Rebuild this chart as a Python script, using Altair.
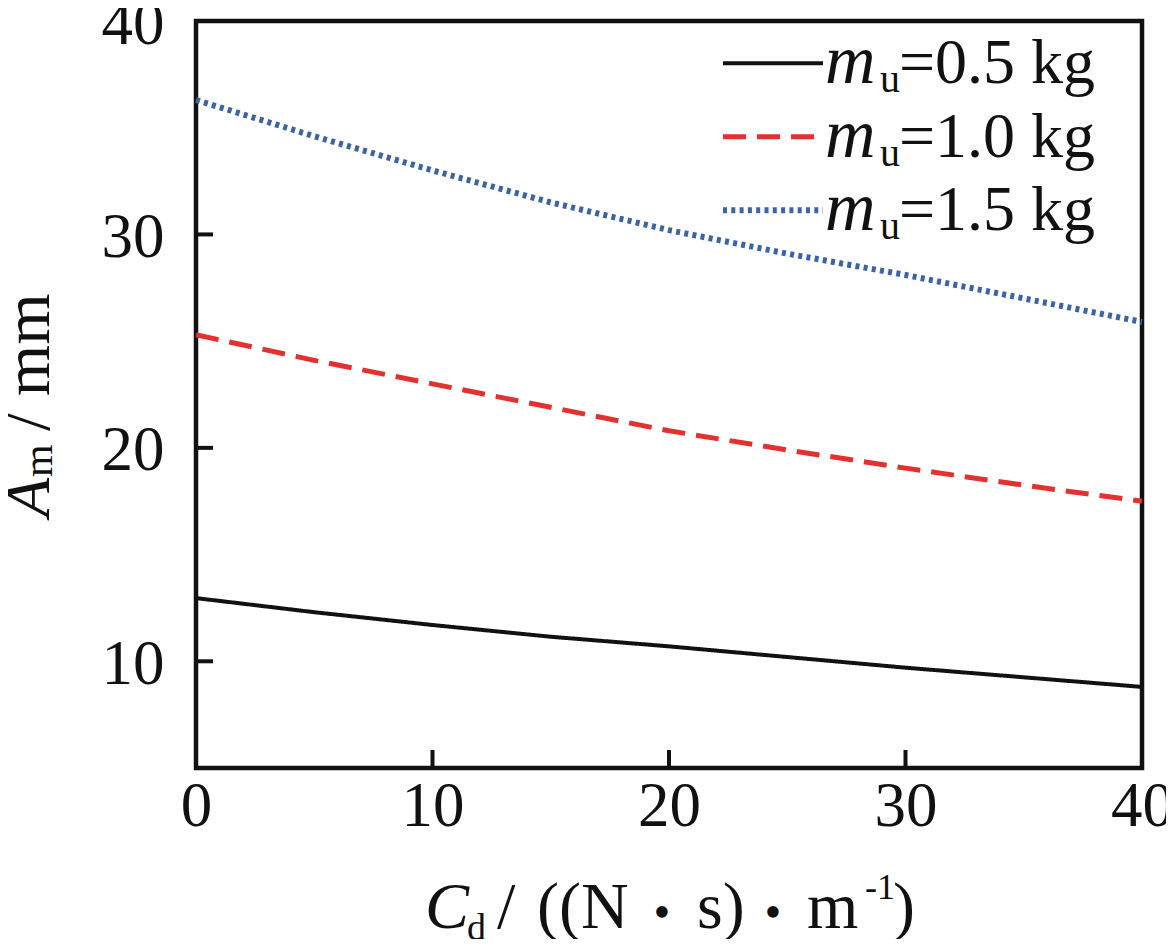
import altair as alt
import pandas as pd

# ---- data ----
cd_values = [0, 5, 10, 15, 20, 25, 30, 35, 40]
series_names = ["0.5 kg", "1.0 kg", "1.5 kg"]
am_05 = [12.96, 12.3, 11.7, 11.15, 10.7, 10.2, 9.7, 9.25, 8.8]
am_10 = [25.3, 24.1, 23.0, 21.9, 20.8, 19.9, 19.05, 18.25, 17.5]
am_15 = [36.3, 34.6, 33.0, 31.5, 30.2, 29.1, 28.1, 27.0, 25.9]
legend_labels = ["=0.5 kg", "=1.0 kg", "=1.5 kg"]
x_ticks = [0, 10, 20, 30, 40]
y_ticks = [10, 20, 30, 40]
inner_ticks = [10, 20, 30]

rows = []
for name, vals in zip(series_names, [am_05, am_10, am_15]):
    for c, v in zip(cd_values, vals):
        rows.append({"cd": c, "am": v, "series": name})
df = pd.DataFrame(rows)
leg_df = pd.DataFrame({"series": series_names, "label": legend_labels})
tick_df = pd.DataFrame({"v": inner_ticks})

FONT = "Times New Roman, Liberation Serif, Times, serif"
W, H = 946, 747
xscale = alt.Scale(domain=[0, 40], nice=False, zero=False)
yscale = alt.Scale(domain=[5, 40], nice=False, zero=False)
col_scale = alt.Scale(domain=series_names, range=["#111111", "#e4312f", "#3a64a6"])
dash_scale = alt.Scale(domain=series_names, range=[[1, 0], [23, 11], [4, 4.3]])
width_scale = alt.Scale(domain=series_names, range=[4, 6, 5])

x_axis = alt.Axis(values=x_ticks, ticks=False, domain=False, grid=False,
                  labelFont=FONT, labelFontSize=63, labelColor="#111",
                  labelPadding=7, labelFlush=False, labelOverlap=False,
                  format="d", title=None)
y_axis = alt.Axis(values=y_ticks, ticks=False, domain=False, grid=False,
                  labelFont=FONT, labelFontSize=63, labelColor="#111",
                  labelPadding=32, labelOffset=3, labelOverlap=False,
                  format="d", title=None)

enc_style = dict(
    color=alt.Color("series:N", scale=col_scale, legend=None),
    strokeDash=alt.StrokeDash("series:N", scale=dash_scale, legend=None),
    strokeWidth=alt.StrokeWidth("series:N", scale=width_scale, legend=None),
)

lines = alt.Chart(df).mark_line(strokeCap="butt").encode(
    x=alt.X("cd:Q", scale=xscale, axis=x_axis),
    y=alt.Y("am:Q", scale=yscale, axis=y_axis),
    order="cd:Q",
    **enc_style,
)

ytick_marks = alt.Chart(tick_df).mark_rule(color="#111", strokeWidth=4).encode(
    y=alt.Y("v:Q", scale=yscale, axis=y_axis), x=alt.value(0), x2=alt.value(17))
xtick_marks = alt.Chart(tick_df).mark_rule(color="#111", strokeWidth=4).encode(
    x=alt.X("v:Q", scale=xscale, axis=x_axis), y=alt.value(H), y2=alt.value(H - 18))

layers = [lines, ytick_marks, xtick_marks]

# ---- legend (manual, for italic m with subscript u) ----
ROW0, STEP = 42.3, 73.5
for i, name in enumerate(series_names):
    sub = alt.Chart(leg_df).transform_filter(alt.datum.series == name)
    ly = ROW0 + i * STEP
    tb = 62 + i * STEP
    layers.append(sub.mark_rule(strokeCap="butt").encode(
        x=alt.value(527), x2=alt.value(627), y=alt.value(ly), **enc_style))
    layers.append(sub.mark_text(text="m", font=FONT, fontStyle="italic",
                                fontSize=70, align="left", baseline="alphabetic",
                                color="#111").encode(
        x=alt.value(629), y=alt.value(tb)))
    layers.append(sub.mark_text(text="u", font=FONT, fontSize=40,
                                align="left", baseline="alphabetic", color="#111").encode(
        x=alt.value(684), y=alt.value(tb + 9)))
    layers.append(sub.mark_text(font=FONT, fontSize=64, align="left",
                                baseline="alphabetic", color="#111").encode(
        text="label:N", x=alt.value(703), y=alt.value(tb)))

# ---- axis titles, built from pieces ----
one = pd.DataFrame({"k": [0]})
def piece(txt, x, y, size, italic=False, angle=0, align="left", font=FONT):
    kw = dict(text=txt, font=font, fontSize=size, align=align,
              baseline="alphabetic", color="#111")
    if italic:
        kw["fontStyle"] = "italic"
    if angle:
        kw["angle"] = angle
    return alt.Chart(one).mark_text(**kw).encode(x=alt.value(x), y=alt.value(y))

XB = 907
layers += [
    piece("C", 229, XB, 66, italic=True),
    piece("d", 271, XB + 12, 38),
    piece("/", 301, XB, 66),
    piece("((N", 341, XB, 66),
    piece("•", 466, XB, 48, align="center"),
    piece("s)", 501, XB, 66),
    piece("•", 577, XB, 48, align="center"),
    piece("m", 611, XB, 66),
    piece("-1", 669, XB - 29, 36),
    piece(")", 697, XB, 66),
    piece("A", -147, 496, 64, italic=True, angle=270),
    piece("m", -144, 456, 42, angle=270),
    piece("/ mm", -147, 410, 66, angle=270),
]

chart = alt.layer(*layers).properties(
    width=W, height=H,
    autosize=alt.AutoSizeParams(type="none"),
    padding={"left": 188, "top": 13, "right": 24, "bottom": 171},
).configure_view(stroke="#111", strokeWidth=4.5)

chart.save("out.html", embed_options={"renderer": "svg", "actions": False})
